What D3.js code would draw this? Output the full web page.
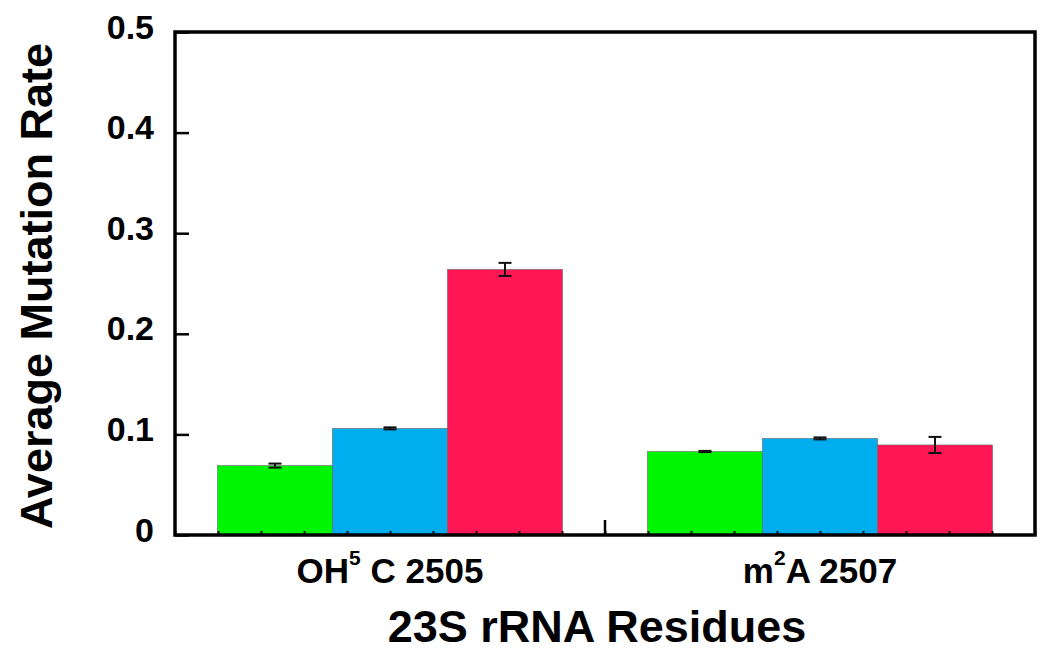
<!DOCTYPE html>
<html>
<head>
<meta charset="utf-8">
<script src="https://cdn.jsdelivr.net/npm/d3@7"></script>
<style>
  body { margin: 0; background: #fff; }
  svg { display: block; font-family: "Liberation Sans", Arial, sans-serif; }
</style>
</head>
<body>
<svg id="chart" width="1050" height="665"></svg>
<script>
// residues on the x axis (base letters, superscript, rest)
const residues = ['OH5 C 2505', 'm2A 2507'];
const residueBase = ['OH', 'm'];
const residueSup = ['5', '2'];
const residueTail = [' C 2505', 'A 2507'];

// three conditions per residue
const series = ['green', 'blue', 'red'];
const seriesColors = ['#00F500', '#00ADEF', '#FF1654'];
const greenVals = [0.069, 0.083];
const greenErr = [0.002, 0.0006];
const blueVals = [0.106, 0.096];
const blueErr = [0.001, 0.001];
const redVals = [0.264, 0.0895];
const redErr = [0.0065, 0.008];

const yTicks = [0, 0.1, 0.2, 0.3, 0.4, 0.5];

const margin = {top: 32, right: 15, bottom: 130, left: 175};
const width = 1050, height = 665;
const plotW = width - margin.left - margin.right;
const plotH = height - margin.top - margin.bottom;

const svg = d3.select('#chart');
const g = svg.append('g').attr('transform', `translate(${margin.left},${margin.top})`);

const x0 = d3.scaleBand().domain(residues).range([0, plotW]);
const groupPad = 42.5;
const x1 = d3.scaleBand().domain(series).range([groupPad, x0.bandwidth() - groupPad]);
const y = d3.scaleLinear().domain([0, 0.5]).range([plotH, 0]);

const vals = {green: greenVals, blue: blueVals, red: redVals};
const errs = {green: greenErr, blue: blueErr, red: redErr};
const color = d3.scaleOrdinal().domain(series).range(seriesColors);

const rows = [];
residues.forEach((r, i) => {
    series.forEach(s => rows.push({res: r, s: s, v: vals[s][i], e: errs[s][i]}));
});

// bars
g.selectAll('rect.bar').data(rows).enter().append('rect')
    .attr('class', 'bar')
    .attr('x', d => x0(d.res) + x1(d.s))
    .attr('y', d => y(d.v))
    .attr('width', x1.bandwidth())
    .attr('height', d => y(0) - y(d.v))
    .attr('fill', d => color(d.s))
    .attr('stroke', '#666')
    .attr('stroke-width', 0.6);

// error bars
const eb = g.selectAll('g.err').data(rows).enter().append('g')
    .attr('class', 'err')
    .attr('transform', d => `translate(${x0(d.res) + x1(d.s) + x1.bandwidth() / 2},0)`);
eb.append('line')
    .attr('y1', d => y(d.v + d.e)).attr('y2', d => y(d.v - d.e))
    .attr('stroke', '#111').attr('stroke-width', 2);
eb.append('line')
    .attr('x1', -6.5).attr('x2', 6.5)
    .attr('y1', d => y(d.v + d.e)).attr('y2', d => y(d.v + d.e))
    .attr('stroke', '#111').attr('stroke-width', 2);
eb.append('line')
    .attr('x1', -6.5).attr('x2', 6.5)
    .attr('y1', d => y(d.v - d.e)).attr('y2', d => y(d.v - d.e))
    .attr('stroke', '#111').attr('stroke-width', 2);

// small minor ticks along the bottom
const minor = d3.scaleLinear().domain([0, 20]).range([0, plotW]);
g.append('g')
    .attr('transform', `translate(0,${plotH})`)
    .call(d3.axisBottom(minor).ticks(20).tickSize(-4).tickFormat(''))
    .call(a => a.select('.domain').remove())
    .selectAll('line').attr('stroke', '#111').attr('stroke-width', 2);

// y axis
const yAxis = g.append('g')
    .call(d3.axisLeft(y).tickValues(yTicks).tickSize(-14).tickPadding(21)
        .tickFormat(d => d === 0 ? '0' : d3.format('.1f')(d)));
yAxis.select('.domain').remove();
yAxis.selectAll('line').attr('stroke', '#000').attr('stroke-width', 2.5);
yAxis.selectAll('text')
    .attr('font-size', 34).attr('font-weight', 'bold')
    .attr('font-family', '"Liberation Sans", Arial, sans-serif')
    .attr('fill', '#000').attr('dy', '0.18em');

// group divider tick
g.append('line')
    .attr('x1', x0(residues[1])).attr('x2', x0(residues[1]))
    .attr('y1', plotH).attr('y2', plotH - 15)
    .attr('stroke', '#000').attr('stroke-width', 2.5);

// x labels with superscripts
const xl = g.selectAll('text.xlab').data(residues).enter().append('text')
    .attr('class', 'xlab')
    .attr('x', d => x0(d) + x0.bandwidth() / 2)
    .attr('y', 583 - margin.top)
    .attr('text-anchor', 'middle')
    .attr('font-size', 35).attr('font-weight', 'bold');
xl.append('tspan').text((d, i) => residueBase[i]);
xl.append('tspan').attr('font-size', 21).attr('dy', -18).text((d, i) => residueSup[i]);
xl.append('tspan').attr('dy', 18).text((d, i) => residueTail[i]);

// frame
g.append('rect')
    .attr('x', 0).attr('y', 0).attr('width', plotW).attr('height', plotH)
    .attr('fill', 'none').attr('stroke', '#000').attr('stroke-width', 3.5);

// axis titles
svg.append('text')
    .attr('x', 597).attr('y', 642)
    .attr('text-anchor', 'middle')
    .attr('font-size', 45).attr('font-weight', 'bold')
    .text('23S rRNA Residues');

svg.append('text')
    .attr('transform', 'translate(52,286) rotate(-90)')
    .attr('text-anchor', 'middle')
    .attr('font-size', 45).attr('font-weight', 'bold')
    .text('Average Mutation Rate');
</script>
</body>
</html>
